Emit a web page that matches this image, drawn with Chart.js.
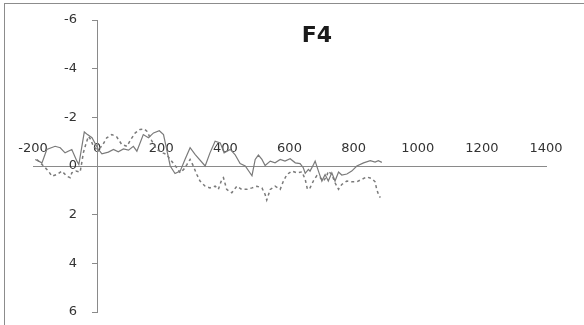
<!DOCTYPE html>
<html>
<head>
<meta charset="utf-8">
<script src="https://cdn.jsdelivr.net/npm/chart.js@4.4.0/dist/chart.umd.min.js"></script>
<style>
html,body{margin:0;padding:0;background:#fff;}
#wrap{position:relative;width:584px;height:325px;overflow:hidden;}
#frame{position:absolute;left:4px;top:3px;right:-4px;bottom:-4px;border-left:1px solid #8c8c8c;border-top:1px solid #8c8c8c;pointer-events:none;}
#title{position:absolute;left:267px;width:100px;top:24px;line-height:22px;text-align:center;font-family:'DejaVu Sans',sans-serif;font-weight:bold;font-size:22px;color:#1a1a1a;}
canvas{position:absolute;left:0;top:0;}
</style>
</head>
<body>
<div id="wrap">
  <canvas id="c" width="584" height="325"></canvas>
  <div id="frame"></div>
  <div id="title">F4</div>
</div>
<script>
// ---- data (time in ms, amplitude in µV) ----
const solidTimes = [-193,-172,-157,-131,-115,-100,-79,-63,-57,-40,-30,-16,4,15,35,51,66,82,98,113,124,144,160,176,194,207,217,228,243,259,274,290,306,337,352,368,384,396,415,430,446,462,483,493,503,514,524,540,555,571,586,602,618,633,643,649,659,664,675,680,690,701,711,721,732,742,753,763,779,794,810,831,852,867,877,888];
const solidValues = [-0.27,-0.13,-0.68,-0.81,-0.75,-0.54,-0.68,-0.2,-0.06,-1.40,-1.29,-1.16,-0.68,-0.5,-0.57,-0.68,-0.58,-0.70,-0.65,-0.81,-0.61,-1.29,-1.16,-1.36,-1.45,-1.29,-0.68,0,0.31,0.21,-0.27,-0.75,-0.47,0,-0.54,-1.02,-0.95,-0.54,-0.68,-0.47,-0.1,0,0.4,-0.27,-0.45,-0.27,-0.02,-0.2,-0.13,-0.27,-0.2,-0.3,-0.13,-0.1,0.07,0.3,0.14,0.21,-0.06,-0.2,0.2,0.62,0.35,0.62,0.28,0.62,0.25,0.37,0.33,0.21,0,-0.13,-0.22,-0.16,-0.22,-0.15];

const dashedTimes = [-188,-167,-152,-141,-126,-110,-94,-84,-79,-66,-53,-48,-43,-34,-27,-20,-12,-1,15,30,46,61,77,93,105,119,134,147,155,171,186,205,217,228,249,259,270,280,290,300,311,321,337,352,368,378,389,394,404,420,436,451,467,483,498,514,524,529,540,555,571,581,592,607,623,639,649,656,664,675,685,696,706,716,721,732,742,753,763,779,794,810,825,841,857,867,872,877,883];
const dashedValues = [-0.27,0,0.21,0.42,0.35,0.21,0.42,0.48,0.28,0.21,0.25,-0.13,-0.54,-0.95,-1.22,-1.09,-0.81,-0.68,-0.81,-1.16,-1.29,-1.2,-0.88,-0.81,-1.09,-1.36,-1.5,-1.52,-1.43,-1.02,-0.68,-0.54,-0.47,-0.27,0.08,0.28,0.14,-0.06,-0.27,0,0.35,0.62,0.83,0.9,0.83,0.96,0.55,0.48,0.96,1.1,0.83,0.96,0.96,0.9,0.83,0.9,1.17,1.4,0.96,0.83,0.96,0.62,0.35,0.21,0.28,0.24,0.55,0.96,0.9,0.6,0.4,0.48,0.62,0.42,0.21,0.35,0.69,0.96,0.76,0.62,0.65,0.65,0.55,0.45,0.52,0.65,0.96,1.15,1.3];

const xTickValues = [-200,0,200,400,600,800,1000,1200,1400];
const yTickValues = [-6,-4,-2,0,2,4,6];

const axisColor = '#8a8a8a';
const labelColor = '#333333';
const labelFont = {family:'DejaVu Sans', size:13};

function toPoints(ts, vs){ return ts.map((t,i)=>({x:t, y:vs[i]})); }
function zeroFit(s){ s.width = 0; s.paddingTop = 0; s.paddingBottom = 0; s.paddingLeft = 0; s.paddingRight = 0; }

new Chart(document.getElementById('c').getContext('2d'), {
  type: 'line',
  data: {
    datasets: [
      {label:'solid', data: toPoints(solidTimes, solidValues), borderColor:'#7a7a7a', borderWidth:1.2, pointRadius:0, tension:0, fill:false, xAxisID:'x', yAxisID:'y'},
      {label:'dashed', data: toPoints(dashedTimes, dashedValues), borderColor:'#7a7a7a', borderWidth:1.5, borderDash:[3,3], pointRadius:0, tension:0, fill:false, xAxisID:'x', yAxisID:'y'}
    ]
  },
  options: {
    responsive:false, animation:false, devicePixelRatio:1,
    layout:{padding:{left:33,right:38,top:20,bottom:13}},
    plugins:{legend:{display:false}, tooltip:{enabled:false}, title:{display:false}},
    scales:{
      x:{
        type:'linear', axis:'x', min:-200, max:1400, position:{y:0},
        afterFit:s=>{s.height=0; s.paddingLeft=0; s.paddingRight=0;},
        afterBuildTicks:s=>{s.ticks=xTickValues.map(v=>({value:v}));},
        grid:{display:false, drawTicks:false},
        border:{display:true, color:axisColor, width:1},
        ticks:{color:labelColor, font:labelFont, padding:-25, maxRotation:0, autoSkip:false, callback:v=>String(v)}
      },
      y:{
        type:'linear', axis:'y', min:-6, max:6, reverse:true, position:{x:0},
        afterFit:zeroFit,
        afterBuildTicks:s=>{s.ticks=yTickValues.map(v=>({value:v}));},
        grid:{display:true, drawOnChartArea:false, drawTicks:true, tickLength:5, color:axisColor},
        border:{display:true, color:axisColor, width:1},
        ticks:{display:false}
      },
      yl:{
        type:'linear', axis:'y', min:-6, max:6, reverse:true, position:'left',
        afterFit:zeroFit,
        afterBuildTicks:s=>{s.ticks=yTickValues.map(v=>({value:v}));},
        grid:{display:false, drawTicks:false},
        border:{display:false},
        ticks:{color:labelColor, font:labelFont, mirror:true, crossAlign:'far', padding:31, callback:v=>String(v)}
      }
    }
  }
});
</script>
</body>
</html>
